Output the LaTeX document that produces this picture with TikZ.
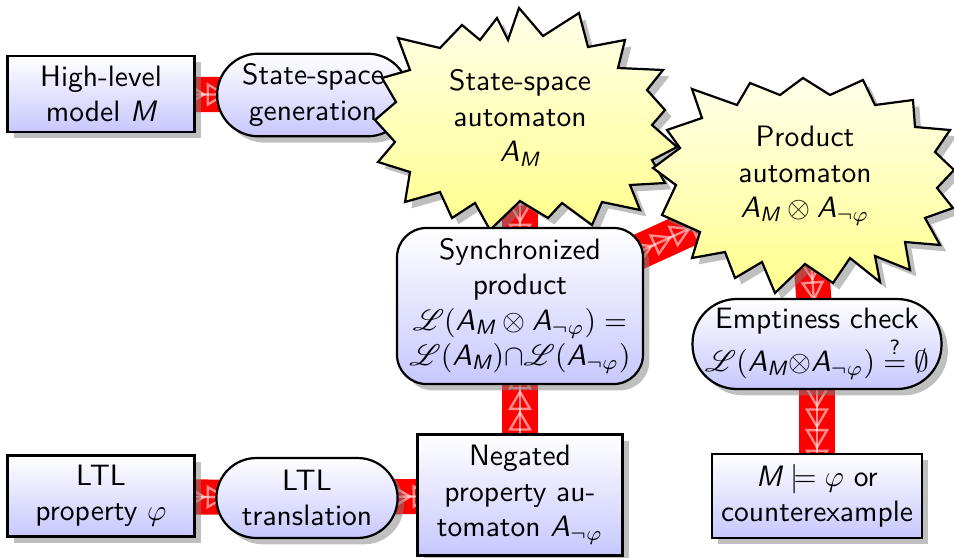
\documentclass[tikz,border=0pt]{standalone}
\usepackage{amsmath,amssymb}
\usepackage{mathrsfs}
\usetikzlibrary{shapes.misc,shadows,decorations.markings,backgrounds}
\newcommand{\sA}{\textsf{\itshape A}}
\newcommand{\sM}{\textsf{\itshape M}}
\begin{document}
\begin{tikzpicture}[x=0.339pt,y=-0.339pt,
  font=\sffamily,
  box/.style={draw, line width=0.75pt, align=center, inner sep=0pt, top color=white, bottom color=blue!22, drop shadow},
  stadium/.style={box, rounded corners=#1},
  starfill/.style={draw, line width=0.75pt, line join=miter, top color=yellow!8, bottom color=yellow!45, drop shadow},
  startext/.style={align=center, inner sep=0pt},
  conn/.style={draw=red, line width=11.9pt,
    postaction={draw=white, draw opacity=.55, line width=.8pt},
    postaction={decorate, decoration={markings,
      mark=between positions 0 and 1 step 7pt with {\draw[white, opacity=.55, line width=.8pt] (-5.8pt,-3.4pt) -- (0pt,0pt) -- (-5.8pt,3.4pt) -- cycle;}}}},
]
\useasboundingbox (0,0) rectangle (954,557);

% left column
\node[box, minimum width=63.4pt, minimum height=25.8pt] (hl) at (101,94) {High-level\\model $\sM$};
\node[stadium=14pt, minimum width=65pt, minimum height=28pt] (gen) at (313,95) {State-space\\generation};

% star 1
\draw[starfill] (519,8) -- (543,36) -- (579,13) -- (588,47) -- (625,40) -- (618,68) -- (663,70) -- (647,90) -- (665,110) -- (652,125) -- (677,147) -- (652,160) -- (665,183) -- (630,185) -- (640,210) -- (602,202) -- (592,225) -- (562,203) -- (548,218) -- (520,201) -- (490,230) -- (475,203) -- (452,218) -- (440,192) -- (405,202) -- (410,172) -- (378,162) -- (395,142) -- (375,120) -- (396,102) -- (382,78) -- (410,70) -- (398,38) -- (440,48) -- (462,25) -- (480,40) -- (497,18) -- (508,40) -- cycle;
\node[startext] (star1) at (520,118) {State-space\\automaton\\$\sA_{\sM}$};

% synchronized product
\node[box, rounded corners=10pt, minimum width=83.4pt, minimum height=52.9pt] (sync) at (520,306)
  {Synchronized\\product\\$\mathscr{L}(\sA_{\sM} \otimes \sA_{\neg\varphi}) =$\\$\mathscr{L}(\sA_{\sM}){\cap}\mathscr{L}(\sA_{\neg\varphi})$};

% star 2
\draw[starfill] (803,78) -- (830,95) -- (863,80) -- (875,105) -- (913,100) -- (915,127) -- (950,130) -- (935,152) -- (954,170) -- (937,188) -- (953,208) -- (925,218) -- (940,245) -- (905,242) -- (910,270) -- (875,256) -- (880,282) -- (850,258) -- (833,283) -- (805,264) -- (775,293) -- (762,262) -- (735,278) -- (725,252) -- (692,258) -- (700,232) -- (662,215) -- (676,185) -- (653,168) -- (680,148) -- (667,130) -- (702,118) -- (692,89) -- (737,105) -- (750,83) -- (780,95) -- cycle;
\node[startext] (star2) at (805,176) {Product\\automaton\\$\sA_{\sM} \otimes \sA_{\neg\varphi}$};

% right column
\node[stadium=15pt, minimum width=84.4pt, minimum height=30.5pt] (empt) at (817,344)
  {Emptiness check\\$\mathscr{L}(\sA_{\sM}{\otimes}\sA_{\neg\varphi}) \overset{\textsf{?}}{=} \emptyset$};
\node[box, minimum width=71.2pt, minimum height=28.5pt] (res) at (817,496) {$\sM \models \varphi$ or\\counterexample};

% bottom row
\node[box, minimum width=63.4pt, minimum height=27.5pt] (ltl) at (101,496) {LTL\\property $\varphi$};
\node[stadium=13.5pt, minimum width=61.4pt, minimum height=27.1pt] (trans) at (307,498) {LTL\\translation};
\node[box, minimum width=69.5pt, minimum height=41pt] (neg) at (520,495) {Negated\\property au-\\tomaton $\sA_{\neg\varphi}$};

\begin{scope}[on background layer]
  \path[conn] (hl.center) -- (gen.center);
  \path[conn] (gen.center) -- (star1.center);
  \path[conn] (star1.center) -- (sync.center);
  \path[conn] (sync.center) -- (star2.center);
  \path[conn] (star2.center) -- (empt.center);
  \path[conn] (empt.center) -- (res.center);
  \path[conn] (ltl.center) -- (trans.center);
  \path[conn] (trans.center) -- (neg.center);
  \path[conn] (neg.center) -- (sync.center);
\end{scope}
\end{tikzpicture}
\end{document}
